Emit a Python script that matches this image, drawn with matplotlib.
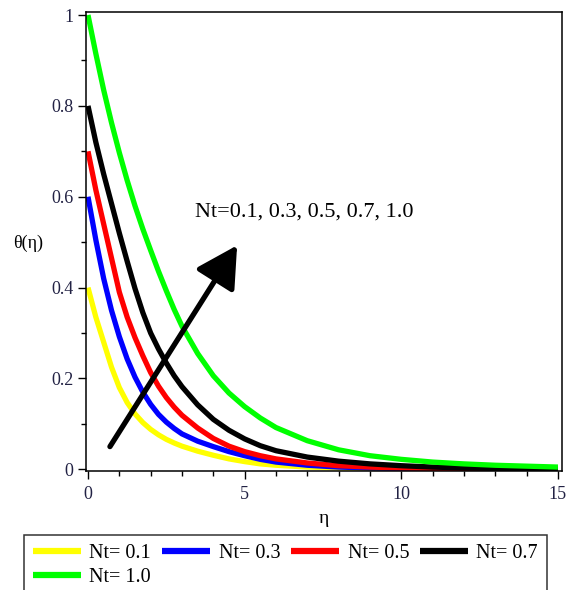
import matplotlib.pyplot as plt
from matplotlib.ticker import MultipleLocator

plt.rcParams["font.family"] = ["Liberation Serif", "DejaVu Serif"]

# eta grid and temperature profiles
eta = [0, 0.25, 0.5, 0.75, 1, 1.25, 1.5, 1.75, 2, 2.25, 2.5, 2.75, 3, 3.5, 4, 4.5,
       5, 5.5, 6, 7, 8, 9, 10, 11, 12, 13, 14, 15]
theta_01 = [0.400, 0.335, 0.280, 0.225, 0.180, 0.147, 0.122, 0.103, 0.088, 0.076,
            0.066, 0.058, 0.051, 0.040, 0.031, 0.023, 0.017, 0.012, 0.009, 0.005,
            0.003, 0.002, 0.001, 0.0, 0.0, 0.0, 0.0, 0.0]
theta_03 = [0.600, 0.505, 0.420, 0.350, 0.292, 0.243, 0.203, 0.170, 0.143, 0.121,
            0.104, 0.090, 0.078, 0.062, 0.050, 0.039, 0.030, 0.022, 0.016, 0.009,
            0.005, 0.003, 0.002, 0.001, 0.001, 0.0, 0.0, 0.0]
theta_05 = [0.700, 0.615, 0.540, 0.465, 0.390, 0.335, 0.290, 0.250, 0.213, 0.183,
            0.158, 0.137, 0.119, 0.091, 0.068, 0.051, 0.039, 0.030, 0.023, 0.014,
            0.008, 0.005, 0.003, 0.002, 0.001, 0.001, 0.0, 0.0]
theta_07 = [0.800, 0.720, 0.650, 0.585, 0.520, 0.458, 0.398, 0.345, 0.300, 0.265,
            0.234, 0.206, 0.182, 0.142, 0.110, 0.086, 0.067, 0.052, 0.041, 0.027,
            0.018, 0.012, 0.008, 0.005, 0.003, 0.002, 0.001, 0.001]
theta_10 = [1.000, 0.915, 0.835, 0.763, 0.697, 0.636, 0.580, 0.529, 0.482, 0.436,
            0.393, 0.352, 0.315, 0.255, 0.206, 0.168, 0.138, 0.113, 0.092, 0.063,
            0.043, 0.030, 0.022, 0.016, 0.012, 0.009, 0.007, 0.005]

labels = ["Nt= 0.1", "Nt= 0.3", "Nt= 0.5", "Nt= 0.7", "Nt= 1.0"]
colors = ["#ffff00", "#0000ff", "#ff0000", "#000000", "#00ff00"]
series = [theta_01, theta_03, theta_05, theta_07, theta_10]

fig = plt.figure(figsize=(5.71, 5.90), dpi=100)
ax = fig.add_axes([86 / 571, 1 - 470.7 / 590, 476 / 571, 458.4 / 590])

handles = []
for th, c, lab in zip(series, colors, labels):
    h, = ax.plot(eta, th, color=c, lw=3.8, label=lab,
                 solid_joinstyle="round", solid_capstyle="butt")
    handles.append(h)

ax.set_xlim(-0.064, 15.13)
ax.set_ylim(-0.003, 1.006)

ax.xaxis.set_major_locator(MultipleLocator(5))
ax.xaxis.set_minor_locator(MultipleLocator(1))
ax.yaxis.set_minor_locator(MultipleLocator(0.1))
ax.set_yticks([0, 0.2, 0.4, 0.6, 0.8, 1.0])
ax.set_yticklabels(["0", "0.2", "0.4", "0.6", "0.8", "1"])

ax.tick_params(which="major", direction="out", length=6, width=1, labelsize=13,
               labelcolor="#222244", pad=3)
ax.tick_params(axis="x", which="major", pad=5)
ax.tick_params(which="minor", direction="out", length=3.5, width=1)
for s in ax.spines.values():
    s.set_linewidth(1.1)

ax.set_xlabel("η", fontsize=14, labelpad=5)
ax.set_ylabel("θ(η)", fontsize=13, rotation=0, ha="center", va="center")
ax.yaxis.set_label_coords(-0.122, 0.497)

# arrow showing increasing Nt
ax.annotate("", xy=(4.76, 0.493), xytext=(0.7, 0.05),
            arrowprops=dict(arrowstyle="-|>,head_length=1.0,head_width=0.55",
                            lw=3.8, color="black", mutation_scale=25,
                            shrinkA=0, shrinkB=0))
ax.text(3.42, 0.566, "Nt=0.1, 0.3, 0.5, 0.7, 1.0", fontsize=16, ha="left", va="center")

# legend filled row by row like the original
order = [0, 4, 1, 2, 3]
leg = fig.legend([handles[i] for i in order], [labels[i] for i in order],
                 loc="upper left", bbox_to_anchor=(24 / 571, 1 - 535 / 590),
                 ncol=4, fontsize=14.5, frameon=True, fancybox=False,
                 handlelength=2.4, handletextpad=0.4, columnspacing=0.55,
                 labelspacing=0.25, borderaxespad=0, borderpad=0.45)
leg.get_frame().set_edgecolor("black")
leg.get_frame().set_linewidth(1.1)
for line in leg.get_lines():
    line.set_linewidth(4.5)

fig.savefig("out.png", dpi=100)
